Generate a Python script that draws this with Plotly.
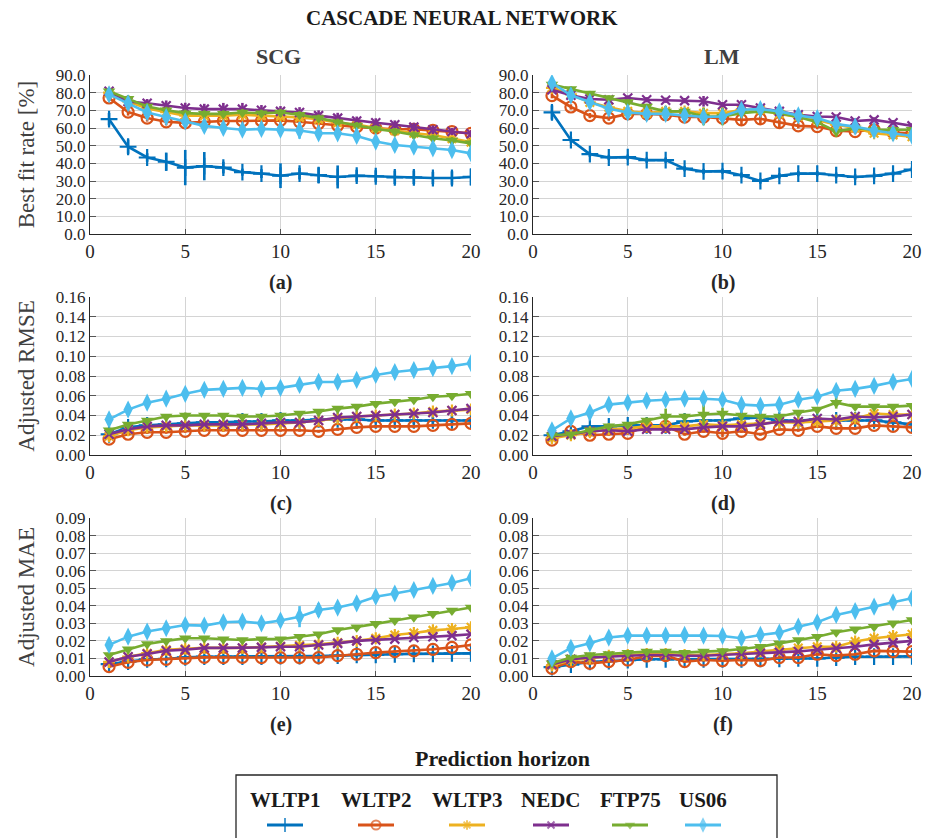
import plotly.graph_objects as go

# ---------------------------------------------------------------- data
horizon = list(range(1, 21))
series_names = ["WLTP1", "WLTP2", "WLTP3", "NEDC", "FTP75", "US06"]

# Best fit rate [%] - SCG training
fit_scg = {
    "WLTP1": [65.0, 49.4, 43.3, 40.9, 37.6, 38.4, 37.6, 35.0, 34.2, 33.0, 34.2, 33.3, 32.3, 33.0, 32.7, 32.1, 32.1, 31.7, 31.7, 32.3],
    "WLTP2": [77.0, 69.0, 65.6, 63.5, 62.9, 63.5, 64.0, 64.0, 64.0, 64.3, 63.5, 62.5, 61.4, 60.6, 59.9, 59.3, 59.3, 58.6, 58.0, 57.0],
    "WLTP3": [80.0, 75.0, 71.0, 69.0, 67.0, 67.0, 67.0, 67.5, 67.0, 66.5, 66.0, 65.0, 63.0, 62.0, 60.0, 58.5, 57.0, 56.0, 54.0, 52.0],
    "NEDC":  [80.8, 75.0, 74.0, 72.6, 71.3, 70.7, 70.7, 70.7, 70.0, 69.4, 68.8, 67.0, 65.6, 64.0, 63.0, 61.8, 60.5, 59.0, 58.0, 56.7],
    "FTP75": [80.8, 76.6, 72.2, 70.0, 68.4, 68.0, 68.0, 68.8, 68.4, 68.8, 67.5, 65.6, 63.3, 61.4, 59.5, 58.0, 56.0, 54.2, 52.9, 51.3],
    "US06":  [79.0, 74.0, 68.8, 66.2, 63.7, 61.2, 60.0, 59.0, 59.5, 59.0, 58.6, 57.0, 57.0, 55.5, 52.3, 50.4, 49.4, 48.5, 47.5, 45.6],
}
fit_scg_err = {
    "WLTP1": [3.5, 4.0, 2.4, 5.2, 10.0, 8.0, 3.3, 2.0, 2.5, 7.0, 3.3, 4.4, 6.5, 3.4, 3.4, 3.8, 3.8, 3.5, 3.8, 4.8],
    "WLTP2": [1.5, 2.0, 2.0, 2.0, 2.0, 2.0, 2.0, 2.0, 2.0, 2.0, 2.0, 2.0, 2.0, 2.0, 2.0, 2.0, 2.0, 2.0, 2.0, 2.0],
    "WLTP3": [1.5, 1.5, 1.5, 1.5, 1.5, 1.5, 1.5, 1.5, 1.5, 1.5, 1.5, 1.5, 1.5, 1.5, 1.5, 1.5, 1.5, 1.5, 1.5, 1.5],
    "NEDC":  [1.5, 2.0, 2.4, 3.0, 3.0, 3.0, 3.5, 3.5, 3.0, 3.0, 3.0, 3.0, 3.0, 2.5, 2.5, 2.5, 2.5, 2.5, 2.0, 2.0],
    "FTP75": [1.5, 2.0, 2.0, 2.0, 2.0, 2.0, 2.0, 2.0, 2.0, 2.0, 2.0, 2.0, 2.0, 2.0, 2.0, 2.0, 2.0, 2.0, 2.0, 2.0],
    "US06":  [1.5, 2.0, 2.0, 2.0, 2.0, 2.0, 2.0, 2.0, 2.0, 2.5, 4.7, 3.0, 3.0, 2.5, 3.0, 3.0, 3.0, 3.0, 3.5, 3.0],
}

# Best fit rate [%] - LM training
fit_lm = {
    "WLTP1": [68.8, 53.2, 45.2, 43.3, 43.5, 41.8, 41.8, 37.0, 35.4, 35.6, 33.3, 30.0, 32.9, 34.2, 34.2, 33.3, 32.3, 32.9, 34.2, 36.5],
    "WLTP2": [78.3, 71.9, 67.0, 65.6, 68.0, 68.0, 67.5, 66.2, 66.2, 65.6, 64.6, 65.2, 63.0, 61.2, 60.8, 58.4, 58.0, 59.0, 57.4, 57.0],
    "WLTP3": [82.7, 79.0, 74.5, 71.7, 69.4, 68.4, 69.4, 69.4, 68.4, 68.4, 70.3, 70.3, 68.0, 66.5, 64.6, 61.8, 60.0, 57.0, 56.0, 55.0],
    "NEDC":  [81.7, 78.5, 76.4, 76.0, 77.0, 76.0, 75.7, 75.5, 75.1, 73.2, 73.2, 71.3, 69.4, 67.5, 66.5, 66.2, 64.0, 64.6, 63.0, 61.2],
    "FTP75": [84.6, 82.1, 79.5, 77.0, 74.7, 72.2, 69.4, 69.4, 66.5, 66.5, 68.4, 69.4, 68.4, 66.2, 63.3, 58.0, 59.9, 59.0, 59.0, 59.0],
    "US06":  [85.5, 78.5, 74.7, 70.9, 68.8, 68.0, 68.0, 67.1, 66.2, 66.5, 70.3, 70.7, 69.4, 67.1, 65.6, 62.2, 60.8, 58.6, 57.0, 55.5],
}
fit_lm_err = {
    "WLTP1": [4.0, 1.5, 1.5, 1.5, 1.5, 1.5, 1.5, 1.5, 1.5, 1.5, 1.5, 1.5, 1.5, 1.5, 1.5, 1.5, 1.5, 1.5, 1.5, 1.5],
    "WLTP2": [1.5, 1.5, 1.5, 1.5, 2.5, 4.0, 1.5, 1.5, 1.5, 1.5, 3.0, 3.5, 3.5, 1.5, 1.5, 1.5, 1.5, 1.5, 1.5, 1.5],
    "WLTP3": [1.5, 1.5, 1.5, 1.5, 1.5, 1.5, 1.5, 1.5, 1.5, 1.5, 1.5, 1.5, 1.5, 1.5, 1.5, 1.5, 1.5, 1.5, 1.5, 1.5],
    "NEDC":  [1.5, 1.5, 1.5, 1.5, 1.5, 1.5, 1.5, 1.5, 3.0, 1.5, 2.5, 1.5, 1.5, 1.5, 1.5, 1.5, 1.5, 1.5, 1.5, 1.5],
    "FTP75": [1.5, 1.5, 1.5, 1.5, 1.5, 1.5, 3.0, 2.0, 5.0, 5.0, 1.5, 1.5, 1.5, 1.5, 1.5, 3.0, 1.5, 1.5, 1.5, 1.5],
    "US06":  [1.5, 1.5, 1.5, 1.5, 1.5, 1.5, 1.5, 1.5, 1.5, 1.5, 1.5, 1.5, 1.5, 1.5, 1.5, 1.5, 1.5, 1.5, 1.5, 1.5],
}

# Adjusted RMSE - SCG training
rmse_scg = {
    "WLTP1": [0.021, 0.028, 0.030, 0.031, 0.032, 0.033, 0.033, 0.034, 0.034, 0.035, 0.035, 0.036, 0.036, 0.036, 0.035, 0.035, 0.035, 0.035, 0.035, 0.035],
    "WLTP2": [0.016, 0.021, 0.023, 0.023, 0.024, 0.025, 0.025, 0.025, 0.025, 0.025, 0.025, 0.024, 0.026, 0.028, 0.029, 0.029, 0.029, 0.030, 0.031, 0.032],
    "WLTP3": [0.019, 0.025, 0.028, 0.029, 0.030, 0.030, 0.030, 0.031, 0.031, 0.032, 0.033, 0.035, 0.037, 0.039, 0.040, 0.041, 0.042, 0.044, 0.045, 0.046],
    "NEDC":  [0.021, 0.026, 0.029, 0.030, 0.030, 0.031, 0.031, 0.031, 0.032, 0.033, 0.033, 0.035, 0.038, 0.039, 0.040, 0.041, 0.042, 0.043, 0.045, 0.047],
    "FTP75": [0.025, 0.031, 0.035, 0.039, 0.040, 0.040, 0.040, 0.039, 0.039, 0.040, 0.042, 0.044, 0.047, 0.049, 0.052, 0.054, 0.056, 0.059, 0.060, 0.062],
    "US06":  [0.036, 0.046, 0.053, 0.057, 0.062, 0.066, 0.067, 0.068, 0.067, 0.068, 0.071, 0.074, 0.074, 0.076, 0.081, 0.084, 0.086, 0.088, 0.090, 0.093],
}
rmse_scg_err = {
    "WLTP1": [0.0015, 0.0015, 0.0015, 0.0015, 0.0015, 0.0015, 0.0015, 0.0015, 0.0015, 0.0015, 0.0015, 0.0015, 0.0015, 0.002, 0.003, 0.003, 0.004, 0.004, 0.004, 0.004],
    "WLTP2": [0.0015, 0.0015, 0.0015, 0.0015, 0.0015, 0.0015, 0.0015, 0.0015, 0.0015, 0.0015, 0.0015, 0.0015, 0.0015, 0.0015, 0.0015, 0.0015, 0.0015, 0.0015, 0.0015, 0.0015],
    "WLTP3": [0.0015, 0.0015, 0.0015, 0.0015, 0.0015, 0.0015, 0.0015, 0.0015, 0.0015, 0.0015, 0.0015, 0.0015, 0.0015, 0.0015, 0.0015, 0.0015, 0.0015, 0.002, 0.002, 0.002],
    "NEDC":  [0.0015, 0.0015, 0.0015, 0.0015, 0.0015, 0.0015, 0.0015, 0.0015, 0.0015, 0.0015, 0.0015, 0.0015, 0.0015, 0.0015, 0.0015, 0.0015, 0.0015, 0.0015, 0.0015, 0.0015],
    "FTP75": [0.002, 0.002, 0.002, 0.002, 0.003, 0.002, 0.002, 0.002, 0.002, 0.002, 0.002, 0.002, 0.002, 0.002, 0.002, 0.002, 0.002, 0.002, 0.002, 0.002],
    "US06":  [0.002, 0.003, 0.002, 0.002, 0.002, 0.002, 0.002, 0.002, 0.002, 0.003, 0.005, 0.004, 0.004, 0.003, 0.002, 0.003, 0.003, 0.002, 0.003, 0.002],
}

# Adjusted RMSE - LM training
rmse_lm = {
    "WLTP1": [0.020, 0.024, 0.029, 0.029, 0.030, 0.030, 0.030, 0.034, 0.035, 0.035, 0.037, 0.038, 0.035, 0.035, 0.036, 0.035, 0.035, 0.035, 0.033, 0.031],
    "WLTP2": [0.015, 0.024, 0.020, 0.021, 0.022, 0.029, 0.029, 0.021, 0.024, 0.022, 0.024, 0.021, 0.026, 0.025, 0.029, 0.027, 0.027, 0.030, 0.029, 0.028],
    "WLTP3": [0.017, 0.020, 0.023, 0.026, 0.027, 0.029, 0.029, 0.029, 0.031, 0.030, 0.031, 0.032, 0.033, 0.033, 0.034, 0.035, 0.037, 0.042, 0.041, 0.041],
    "NEDC":  [0.019, 0.021, 0.024, 0.025, 0.024, 0.026, 0.026, 0.026, 0.028, 0.029, 0.029, 0.031, 0.034, 0.034, 0.037, 0.036, 0.039, 0.038, 0.039, 0.041],
    "FTP75": [0.020, 0.021, 0.025, 0.029, 0.031, 0.035, 0.039, 0.039, 0.041, 0.042, 0.040, 0.039, 0.039, 0.043, 0.046, 0.053, 0.049, 0.049, 0.049, 0.050],
    "US06":  [0.025, 0.037, 0.043, 0.051, 0.053, 0.055, 0.056, 0.057, 0.057, 0.056, 0.051, 0.050, 0.051, 0.056, 0.059, 0.065, 0.067, 0.070, 0.074, 0.077],
}
rmse_lm_err = {
    "WLTP1": [0.0015, 0.0015, 0.0015, 0.0015, 0.0015, 0.0015, 0.0015, 0.0015, 0.0015, 0.0015, 0.0015, 0.0015, 0.0015, 0.0015, 0.0015, 0.0015, 0.0015, 0.0015, 0.0015, 0.0015],
    "WLTP2": [0.0015, 0.0015, 0.0015, 0.0015, 0.0015, 0.0015, 0.0015, 0.0015, 0.0015, 0.004, 0.0015, 0.0015, 0.0015, 0.0015, 0.0015, 0.0015, 0.0015, 0.0015, 0.0015, 0.0015],
    "WLTP3": [0.0015, 0.0015, 0.0015, 0.0015, 0.0015, 0.0015, 0.0015, 0.0015, 0.0015, 0.0015, 0.0015, 0.0015, 0.0015, 0.0015, 0.0015, 0.0015, 0.0015, 0.0015, 0.0015, 0.0015],
    "NEDC":  [0.0015, 0.0015, 0.0015, 0.0015, 0.0015, 0.0015, 0.0015, 0.0015, 0.0015, 0.0015, 0.0015, 0.0015, 0.0015, 0.0015, 0.0015, 0.0015, 0.0015, 0.0015, 0.0015, 0.0015],
    "FTP75": [0.002, 0.002, 0.002, 0.002, 0.002, 0.003, 0.008, 0.003, 0.011, 0.006, 0.002, 0.002, 0.002, 0.002, 0.002, 0.006, 0.002, 0.002, 0.002, 0.002],
    "US06":  [0.002, 0.002, 0.002, 0.002, 0.002, 0.002, 0.002, 0.002, 0.002, 0.002, 0.002, 0.002, 0.002, 0.002, 0.002, 0.002, 0.002, 0.002, 0.002, 0.002],
}

# Adjusted MAE - SCG training
mae_scg = {
    "WLTP1": [0.0068, 0.0082, 0.0095, 0.0097, 0.0106, 0.0110, 0.0110, 0.0110, 0.0110, 0.0114, 0.0114, 0.0114, 0.0116, 0.0120, 0.0120, 0.0124, 0.0126, 0.0126, 0.0129, 0.0129],
    "WLTP2": [0.0053, 0.0078, 0.0091, 0.0095, 0.0100, 0.0106, 0.0105, 0.0106, 0.0105, 0.0105, 0.0105, 0.0105, 0.0116, 0.0124, 0.0133, 0.0139, 0.0143, 0.0152, 0.0163, 0.0177],
    "WLTP3": [0.0080, 0.0110, 0.0130, 0.0150, 0.0155, 0.0160, 0.0160, 0.0160, 0.0165, 0.0170, 0.0175, 0.0180, 0.0190, 0.0200, 0.0215, 0.0234, 0.0245, 0.0260, 0.0268, 0.0278],
    "NEDC":  [0.0080, 0.0110, 0.0125, 0.0144, 0.0150, 0.0160, 0.0160, 0.0160, 0.0163, 0.0167, 0.0167, 0.0177, 0.0186, 0.0200, 0.0205, 0.0210, 0.0219, 0.0224, 0.0230, 0.0238],
    "FTP75": [0.0120, 0.0152, 0.0182, 0.0200, 0.0215, 0.0215, 0.0210, 0.0205, 0.0210, 0.0210, 0.0224, 0.0238, 0.0262, 0.0278, 0.0297, 0.0316, 0.0335, 0.0354, 0.0373, 0.0390],
    "US06":  [0.0177, 0.0224, 0.0253, 0.0272, 0.0290, 0.0287, 0.0306, 0.0310, 0.0300, 0.0316, 0.0338, 0.0376, 0.0390, 0.0414, 0.0452, 0.0470, 0.0490, 0.0513, 0.0530, 0.0557],
}
mae_scg_err = {
    "WLTP1": [0.001, 0.001, 0.001, 0.001, 0.001, 0.001, 0.001, 0.001, 0.001, 0.001, 0.001, 0.001, 0.001, 0.001, 0.0012, 0.0012, 0.0012, 0.0012, 0.0012, 0.0012],
    "WLTP2": [0.0008, 0.0008, 0.0008, 0.0008, 0.0008, 0.0008, 0.0008, 0.0008, 0.0008, 0.0008, 0.0008, 0.0008, 0.0008, 0.0008, 0.0008, 0.0008, 0.0008, 0.0008, 0.0008, 0.0008],
    "WLTP3": [0.0008, 0.0008, 0.0008, 0.0008, 0.0008, 0.0008, 0.0008, 0.0008, 0.0008, 0.0008, 0.0008, 0.0008, 0.0008, 0.0008, 0.0008, 0.0008, 0.0010, 0.0010, 0.0010, 0.0010],
    "NEDC":  [0.0008, 0.0008, 0.0008, 0.0008, 0.0008, 0.0008, 0.0008, 0.0008, 0.0008, 0.0008, 0.0008, 0.0008, 0.0008, 0.0008, 0.0008, 0.0008, 0.0008, 0.0008, 0.0008, 0.0008],
    "FTP75": [0.0012, 0.0012, 0.0012, 0.0012, 0.0012, 0.0012, 0.0012, 0.0012, 0.0012, 0.0012, 0.0012, 0.0012, 0.0012, 0.0012, 0.0012, 0.0012, 0.0012, 0.0012, 0.0012, 0.0012],
    "US06":  [0.0015, 0.0015, 0.0015, 0.0015, 0.0015, 0.0015, 0.0020, 0.0020, 0.0015, 0.0020, 0.0060, 0.0040, 0.0030, 0.0025, 0.0030, 0.0030, 0.0025, 0.0030, 0.0030, 0.0025],
}

# Adjusted MAE - LM training
mae_lm = {
    "WLTP1": [0.0050, 0.0065, 0.0080, 0.0085, 0.0090, 0.0095, 0.0095, 0.0095, 0.0095, 0.0095, 0.0095, 0.0098, 0.0098, 0.0100, 0.0100, 0.0105, 0.0110, 0.0110, 0.0110, 0.0112],
    "WLTP2": [0.0044, 0.0082, 0.0072, 0.0082, 0.0091, 0.0114, 0.0116, 0.0082, 0.0091, 0.0087, 0.0091, 0.0087, 0.0105, 0.0105, 0.0124, 0.0116, 0.0124, 0.0143, 0.0139, 0.0139],
    "WLTP3": [0.0060, 0.0090, 0.0100, 0.0115, 0.0120, 0.0125, 0.0125, 0.0120, 0.0120, 0.0125, 0.0130, 0.0140, 0.0150, 0.0160, 0.0167, 0.0167, 0.0196, 0.0215, 0.0228, 0.0238],
    "NEDC":  [0.0065, 0.0095, 0.0105, 0.0110, 0.0113, 0.0120, 0.0120, 0.0115, 0.0115, 0.0120, 0.0125, 0.0130, 0.0135, 0.0140, 0.0150, 0.0158, 0.0167, 0.0180, 0.0190, 0.0200],
    "FTP75": [0.0072, 0.0105, 0.0120, 0.0125, 0.0133, 0.0139, 0.0139, 0.0133, 0.0139, 0.0143, 0.0154, 0.0167, 0.0186, 0.0205, 0.0224, 0.0249, 0.0266, 0.0281, 0.0300, 0.0319],
    "US06":  [0.0100, 0.0160, 0.0186, 0.0219, 0.0230, 0.0230, 0.0230, 0.0234, 0.0230, 0.0228, 0.0215, 0.0234, 0.0247, 0.0281, 0.0306, 0.0348, 0.0370, 0.0395, 0.0420, 0.0443],
}
mae_lm_err = {
    "WLTP1": [0.0008, 0.0008, 0.0008, 0.0008, 0.0008, 0.0008, 0.0008, 0.0008, 0.0008, 0.0008, 0.0008, 0.0008, 0.0008, 0.0008, 0.0008, 0.0008, 0.0008, 0.0008, 0.0008, 0.0008],
    "WLTP2": [0.0008, 0.0008, 0.0008, 0.0008, 0.0008, 0.0008, 0.0008, 0.0008, 0.0008, 0.0008, 0.0008, 0.0008, 0.0008, 0.0008, 0.0008, 0.0008, 0.0008, 0.0008, 0.0008, 0.0008],
    "WLTP3": [0.0008, 0.0008, 0.0008, 0.0008, 0.0008, 0.0008, 0.0008, 0.0008, 0.0008, 0.0008, 0.0008, 0.0008, 0.0008, 0.0008, 0.0008, 0.0008, 0.0008, 0.0008, 0.0008, 0.0008],
    "NEDC":  [0.0008, 0.0008, 0.0008, 0.0008, 0.0008, 0.0008, 0.0008, 0.0008, 0.0008, 0.0008, 0.0008, 0.0008, 0.0008, 0.0008, 0.0008, 0.0008, 0.0008, 0.0008, 0.0008, 0.0008],
    "FTP75": [0.0008, 0.0008, 0.0008, 0.0008, 0.0008, 0.0008, 0.0008, 0.0008, 0.0008, 0.0008, 0.0008, 0.0008, 0.0008, 0.0008, 0.0008, 0.0008, 0.0008, 0.0008, 0.0008, 0.0008],
    "US06":  [0.0010, 0.0010, 0.0010, 0.0010, 0.0010, 0.0010, 0.0010, 0.0010, 0.0010, 0.0010, 0.0010, 0.0010, 0.0010, 0.0010, 0.0010, 0.0010, 0.0010, 0.0010, 0.0010, 0.0010],
}

# ---------------------------------------------------------------- styles
colors = {
    "WLTP1": "#0072BD", "WLTP2": "#D95319", "WLTP3": "#EDB120",
    "NEDC": "#7E2F8E", "FTP75": "#77AC30", "US06": "#4DBEEE",
}
symbols = {
    "WLTP1": "cross-thin-open", "WLTP2": "circle-open", "WLTP3": "asterisk-open",
    "NEDC": "x-thin-open", "FTP75": "triangle-down", "US06": "diamond-tall",
}
msize = {"WLTP1": 12, "WLTP2": 11, "WLTP3": 10, "NEDC": 9, "FTP75": 11, "US06": 13}

FONT = "Liberation Serif"
W, H = 925, 838

# panel frames in pixels: (left, right) per column, (top, bottom) per row
col_x = [(90, 471), (533, 912)]
row_y = [(75, 234), (297, 455), (518, 676)]


def px_x(v):
    return v / W


def px_y(v):
    return 1 - v / H


panels = [
    # (row, col, values, errors, yrange, dtick, fmt, ytitle, tag)
    (0, 0, fit_scg, fit_scg_err, [0, 90], 10, ".1f", "Best fit rate [%]", "(a)"),
    (0, 1, fit_lm, fit_lm_err, [0, 90], 10, ".1f", None, "(b)"),
    (1, 0, rmse_scg, rmse_scg_err, [0, 0.16], 0.02, ".2f", "Adjusted RMSE", "(c)"),
    (1, 1, rmse_lm, rmse_lm_err, [0, 0.16], 0.02, ".2f", None, "(d)"),
    (2, 0, mae_scg, mae_scg_err, [0, 0.09], 0.01, ".2f", "Adjusted MAE", "(e)"),
    (2, 1, mae_lm, mae_lm_err, [0, 0.09], 0.01, ".2f", None, "(f)"),
]

fig = go.Figure()
layout = {}
annotations = []
xtick_font = dict(family=FONT, size=19, color="#262626")
ytick_font = dict(family=FONT, size=17, color="#262626")

for i, (r, c, vals, errs, yr, dt, fmt, ytitle, tag) in enumerate(panels):
    n = i + 1
    xa = "xaxis" if n == 1 else f"xaxis{n}"
    ya = "yaxis" if n == 1 else f"yaxis{n}"
    xref = "x" if n == 1 else f"x{n}"
    yref = "y" if n == 1 else f"y{n}"
    x0, x1 = col_x[c]
    yt, yb = row_y[r]
    layout[xa] = dict(
        domain=[px_x(x0), px_x(x1)], anchor=yref, range=[0, 20], automargin=False,
        tickvals=[0, 5, 10, 15, 20], showgrid=True, gridcolor="#d4d4d4", gridwidth=1,
        showline=True, linecolor="#262626", linewidth=1.3, zeroline=False,
        ticks="inside", ticklen=5, tickcolor="#555555", tickfont=xtick_font,
    )
    layout[ya] = dict(
        domain=[px_y(yb), px_y(yt)], anchor=xref, range=yr, dtick=dt, tick0=0,
        automargin=False, tickformat=fmt, showgrid=True, gridcolor="#d4d4d4",
        gridwidth=1, showline=True, linecolor="#262626", linewidth=1.3,
        zeroline=False, ticks="inside", ticklen=6, tickcolor="#555555",
        tickfont=ytick_font,
    )
    if ytitle:
        layout[ya]["title"] = dict(
            text=ytitle, font=dict(family=FONT, size=23, color="#404040"), standoff=14,
        )
    # sub-figure tag below the tick labels
    annotations.append(dict(
        text=f"<b>{tag}</b>", x=px_x((x0 + x1) / 2), y=px_y(yb + 48), xref="paper",
        yref="paper", xanchor="center", yanchor="middle", showarrow=False,
        font=dict(family=FONT, size=20, color="#262626"),
    ))
    for name in series_names:
        col = colors[name]
        filled = name in ("FTP75", "US06")
        fig.add_trace(go.Scatter(
            x=horizon, y=vals[name], xaxis=xref, yaxis=yref, mode="lines+markers",
            name=name, showlegend=False,
            line=dict(color=col, width=2.6),
            marker=dict(symbol=symbols[name], size=msize[name], color=col,
                        line=dict(color=col, width=2.2 if not filled else 0)),
            error_y=dict(type="data", array=errs[name], visible=True, color=col,
                         thickness=2.6, width=0),
        ))

# ---------------------------------------------------------------- legend
legend_centers = [285, 376, 467, 551, 630, 703]
layout["xaxis7"] = dict(domain=[0, 1], range=[0, W], anchor="y7", visible=False,
                        fixedrange=True, automargin=False)
layout["yaxis7"] = dict(domain=[px_y(838), px_y(812)], range=[-1, 1], anchor="x7",
                        visible=False, fixedrange=True, automargin=False)
for name, cx in zip(series_names, legend_centers):
    col = colors[name]
    filled = name in ("FTP75", "US06")
    fig.add_trace(go.Scatter(
        x=[cx - 18, cx, cx + 18], y=[0, 0, 0], xaxis="x7", yaxis="y7",
        mode="lines+markers", showlegend=False, hoverinfo="skip",
        line=dict(color=col, width=3),
        marker=dict(symbol=symbols[name], size=[0, msize[name] - 2, 0], color=col,
                    line=dict(color=col, width=2 if not filled else 0)),
    ))
    annotations.append(dict(
        text=f"<b>{name}</b>", x=px_x(cx), y=px_y(800), xref="paper", yref="paper",
        xanchor="center", yanchor="middle", showarrow=False,
        font=dict(family=FONT, size=21, color="#1a1a1a"),
    ))

shapes = [dict(type="rect", xref="paper", yref="paper", x0=px_x(236), x1=px_x(777),
               y0=-0.05, y1=px_y(775), line=dict(color="#262626", width=1.3),
               fillcolor="rgba(0,0,0,0)", layer="below")]

# headings
heading = dict(xref="paper", yref="paper", xanchor="center", yanchor="middle",
               showarrow=False)
annotations += [
    dict(text="<b>CASCADE NEURAL NETWORK</b>", x=px_x(462), y=px_y(18),
         font=dict(family=FONT, size=21, color="#1a1a1a"), **heading),
    dict(text="<b>SCG</b>", x=px_x(278), y=px_y(56),
         font=dict(family=FONT, size=22, color="#404040"), **heading),
    dict(text="<b>LM</b>", x=px_x(722), y=px_y(56),
         font=dict(family=FONT, size=22, color="#404040"), **heading),
    dict(text="<b>Prediction horizon</b>", x=px_x(502), y=px_y(758),
         font=dict(family=FONT, size=22, color="#1a1a1a"), **heading),
]

fig.update_layout(
    template="none",
    width=W, height=H, margin=dict(l=0, r=0, t=0, b=0, autoexpand=False),
    paper_bgcolor="white", plot_bgcolor="white",
    font=dict(family=FONT, color="#262626"),
    annotations=annotations, shapes=shapes, showlegend=False,
    **layout,
)

fig.write_html("out.html")
